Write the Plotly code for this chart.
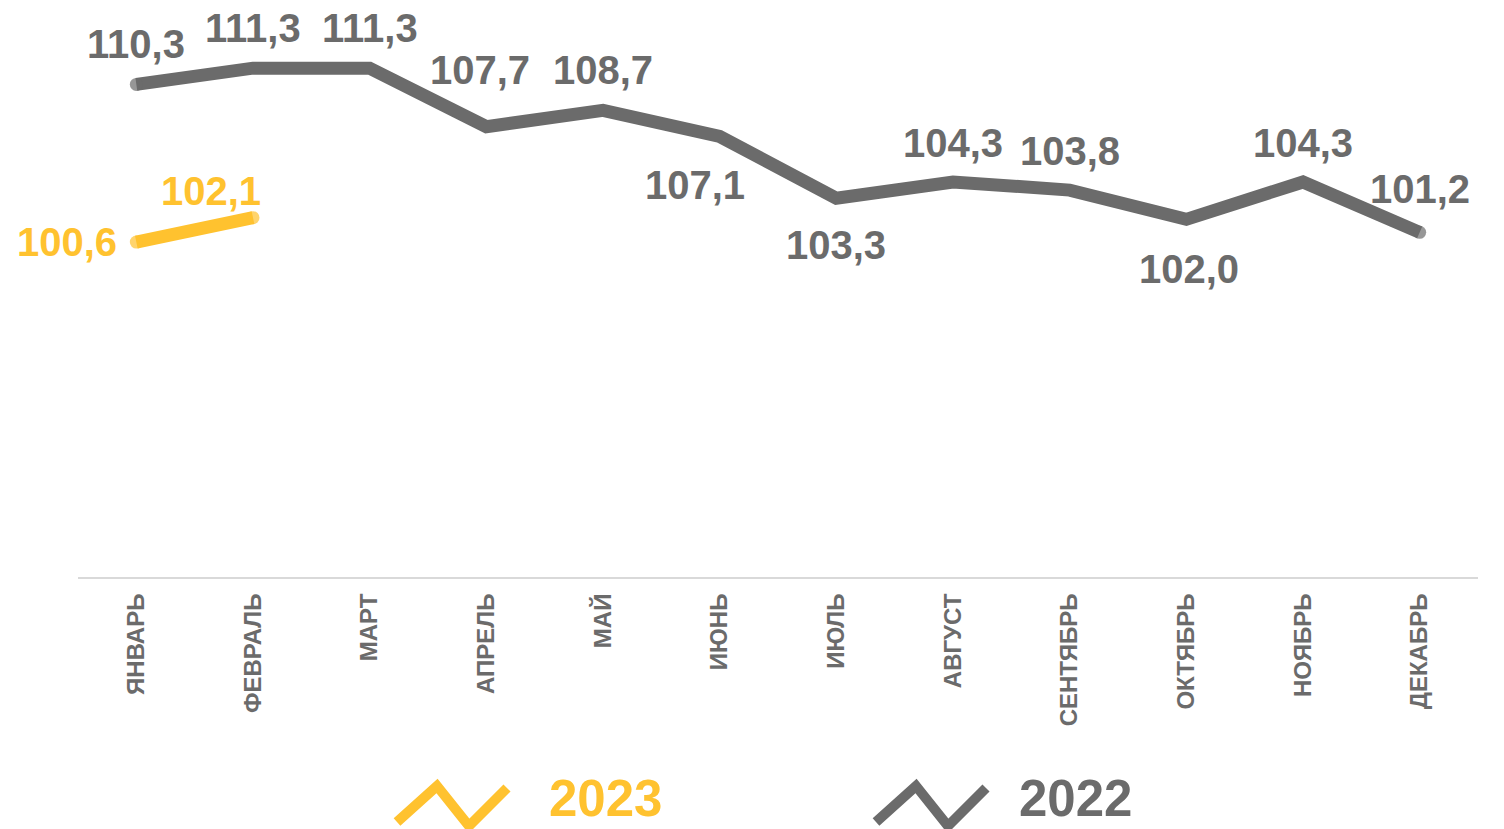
import plotly.graph_objects as go

months = ["ЯНВАРЬ", "ФЕВРАЛЬ", "МАРТ", "АПРЕЛЬ", "МАЙ", "ИЮНЬ", "ИЮЛЬ",
          "АВГУСТ", "СЕНТЯБРЬ", "ОКТЯБРЬ", "НОЯБРЬ", "ДЕКАБРЬ"]
values_2022 = [110.3, 111.3, 111.3, 107.7, 108.7, 107.1, 103.3, 104.3, 103.8, 102.0, 104.3, 101.2]
values_2023 = [100.6, 102.1]

# label offsets (pixels) — styling only
off_2022 = [(0, 40), (0, 40), (0, 40), (-6, 57), (0, 40), (-25, -49), (0, -47),
            (0, 39), (0, 39), (3, -50), (0, 39), (0, 43)]
off_2023 = [(-69, 0), (-42, 27)]

GRAY = "#6b6b6b"
YELLOW = "#ffc22f"
FONT = "Liberation Sans, Arial, sans-serif"
LW = 13

W, H = 1504, 829
ML, MR, MT, MB = 78, 26, 8, 252
PW, PH = W - ML - MR, H - MT - MB


def end_sizes(n):
    return [LW if i in (0, n - 1) else 0 for i in range(n)]


fig = go.Figure()
fig.add_trace(go.Scatter(x=months, y=values_2022, mode="lines+markers", name="2022",
                         line=dict(color=GRAY, width=LW),
                         marker=dict(color=GRAY, size=end_sizes(len(values_2022)), line=dict(width=0)),
                         hoverinfo="skip", showlegend=False))
fig.add_trace(go.Scatter(x=months[:len(values_2023)], y=values_2023, mode="lines+markers", name="2023",
                         line=dict(color=YELLOW, width=LW),
                         marker=dict(color=YELLOW, size=end_sizes(len(values_2023)), line=dict(width=0)),
                         hoverinfo="skip", showlegend=False))

annotations = []
for m, v, (dx, dy) in zip(months, values_2022, off_2022):
    annotations.append(dict(x=m, y=v, xref="x", yref="y", text=f"{v:.1f}".replace(".", ","),
                            showarrow=False, xanchor="center", yanchor="middle",
                            xshift=dx, yshift=dy,
                            font=dict(family=FONT, size=40, color=GRAY, weight="bold")))
for m, v, (dx, dy) in zip(months, values_2023, off_2023):
    annotations.append(dict(x=m, y=v, xref="x", yref="y", text=f"{v:.1f}".replace(".", ","),
                            showarrow=False, xanchor="center", yanchor="middle",
                            xshift=dx, yshift=dy,
                            font=dict(family=FONT, size=40, color=YELLOW, weight="bold")))


def px(x):
    return (x - ML) / PW


def py(y):
    return (H - MB - y) / PH


shapes = []
legend_items = [("2023", YELLOW, 397, 605), ("2022", GRAY, 876, 1075)]
for name, color, x0, tx in legend_items:
    pts = [(x0, 822), (x0 + 40, 786), (x0 + 72, 826), (x0 + 110, 788)]
    path = "M " + " L ".join(f"{px(a):.5f},{py(b):.5f}" for a, b in pts)
    shapes.append(dict(type="path", path=path, xref="paper", yref="paper",
                       line=dict(color=color, width=10)))
    annotations.append(dict(x=px(tx), y=py(829), xref="paper", yref="paper", text=name,
                            showarrow=False, xanchor="center", yanchor="bottom",
                            font=dict(family=FONT, size=51, color=color, weight="bold")))

fig.update_layout(
    width=W, height=H,
    margin=dict(l=ML, r=MR, t=MT, b=MB),
    paper_bgcolor="white", plot_bgcolor="white",
    showlegend=False,
    annotations=annotations,
    shapes=shapes,
    xaxis=dict(type="category", range=[-0.5, len(months) - 0.5], autorange=False,
               showgrid=False, zeroline=False,
               showline=True, linecolor="#d9d9d9", linewidth=2,
               ticks="", tickangle=-90, ticklabelstandoff=5,
               tickfont=dict(family=FONT, size=24, color=GRAY, weight="bold")),
    yaxis=dict(range=[80, 115], visible=False, showgrid=False, zeroline=False),
)

fig.write_html("out.html", config={"displayModeBar": False},
               post_script="document.body.style.margin='0';document.body.style.overflow='hidden';")
